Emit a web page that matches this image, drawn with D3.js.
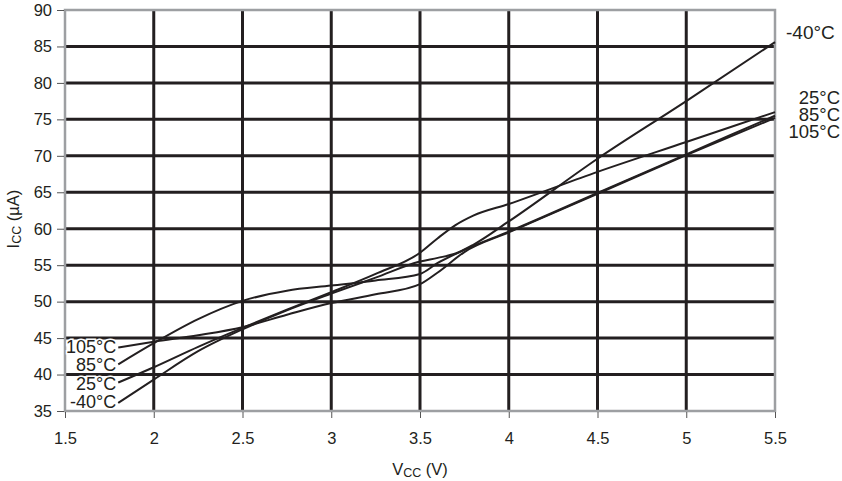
<!DOCTYPE html>
<html>
<head>
<meta charset="utf-8">
<script src="https://cdn.jsdelivr.net/npm/d3@7.9.0/dist/d3.min.js"></script>
<style>
  html, body { margin: 0; padding: 0; background: #fff; }
  svg { display: block; font-family: 'Liberation Sans', Arial, sans-serif; }
</style>
</head>
<body>
<svg id="chart" width="842" height="481"></svg>
<script>
// supply voltage (V) and supply current (µA)
const vcc105 = [1.8, 2.0, 2.25, 2.5, 2.75, 3.0, 3.25, 3.5, 3.6, 3.75, 4.0, 4.5, 5.0, 5.5];
const icc105 = [43.7, 44.5, 45.4, 46.5, 48.2, 49.8, 51.0, 52.4, 54.0, 56.8, 59.5, 64.8, 70.1, 75.2];

const vcc85 = [1.8, 2.0, 2.25, 2.5, 2.75, 3.0, 3.25, 3.5, 3.6, 3.75, 4.0, 4.5, 5.0, 5.5];
const icc85 = [41.4, 44.3, 47.6, 50.1, 51.5, 52.2, 52.9, 53.8, 55.3, 57.1, 59.6, 64.9, 70.2, 75.5];

const vcc25 = [1.8, 2.0, 2.25, 2.5, 2.75, 3.0, 3.25, 3.5, 3.6, 3.7, 3.8, 4.0, 4.5, 5.0, 5.5];
const icc25 = [38.9, 41.0, 43.8, 46.4, 48.9, 51.3, 53.8, 56.7, 58.7, 60.5, 61.8, 63.4, 67.8, 71.9, 76.0];

const vccM40 = [1.8, 2.0, 2.25, 2.5, 2.75, 3.0, 3.25, 3.5, 3.6, 3.7, 3.8, 4.0, 4.5, 5.0, 5.5];
const iccM40 = [36.1, 39.3, 43.2, 46.2, 48.8, 51.1, 53.3, 55.5, 56.0, 56.6, 57.8, 61.0, 69.6, 77.5, 85.6];

const seriesNames = ['105°C', '85°C', '25°C', '-40°C'];
const seriesV = [vcc105, vcc85, vcc25, vccM40];
const seriesI = [icc105, icc85, icc25, iccM40];

const xTicks = [1.5, 2, 2.5, 3, 3.5, 4, 4.5, 5, 5.5];
const yTicks = [35, 40, 45, 50, 55, 60, 65, 70, 75, 80, 85, 90];

// label order at the right edge, top to bottom
const rightLabels = ['25°C', '85°C', '105°C'];

const ink = '#231f20';
const frameGray = '#9d9fa2';

const svg = d3.select('#chart');
const x = d3.scaleLinear().domain([1.5, 5.5]).range([65, 775]);
const y = d3.scaleLinear().domain([35, 90]).range([411, 10]);

// grid
svg.append('g')
  .selectAll('line')
  .data(xTicks.slice(1, -1))
  .join('line')
  .attr('x1', (d) => x(d)).attr('x2', (d) => x(d))
  .attr('y1', y(90)).attr('y2', y(35))
  .attr('stroke', ink).attr('stroke-width', 3);

svg.append('g')
  .selectAll('line')
  .data(yTicks.slice(1, -1))
  .join('line')
  .attr('x1', x(1.5)).attr('x2', x(5.5))
  .attr('y1', (d) => y(d)).attr('y2', (d) => y(d))
  .attr('stroke', ink).attr('stroke-width', 3);

// frame
svg.append('rect')
  .attr('x', x(1.5)).attr('y', y(90))
  .attr('width', x(5.5) - x(1.5)).attr('height', y(35) - y(90))
  .attr('fill', 'none').attr('stroke', frameGray).attr('stroke-width', 2.5);

// axes
const yAxis = svg.append('g')
  .attr('transform', `translate(${x(1.5) - 1},0)`)
  .call(d3.axisLeft(y).tickValues(yTicks).tickSize(7).tickPadding(5));
const xAxis = svg.append('g')
  .attr('transform', `translate(0,${y(35) + 1})`)
  .call(d3.axisBottom(x).tickValues(xTicks).tickSize(6).tickPadding(14)
    .tickFormat(d3.format('')));

[yAxis, xAxis].forEach((g) => {
  g.select('.domain').remove();
  g.selectAll('line').attr('stroke', '#555');
  g.selectAll('text')
    .attr('fill', ink)
    .style('font-size', '16.5px')
    .style('font-family', "'Liberation Sans', Arial, sans-serif");
});

// curves
const line = d3.line()
  .x((d) => x(d[0]))
  .y((d) => y(d[1]))
  .curve(d3.curveMonotoneX);

seriesNames.forEach((name, i) => {
  const pts = seriesV[i].map((v, j) => [v, seriesI[i][j]]);
  svg.append('path')
    .datum(pts)
    .attr('d', line)
    .attr('fill', 'none')
    .attr('stroke', ink)
    .attr('stroke-width', 2);
});

// temperature labels, left side
const leftG = svg.append('g')
  .style('font-size', '18px');
seriesNames.forEach((name, i) => {
  leftG.append('text')
    .attr('x', x(1.8) - 2)
    .attr('y', 353 + i * 18.4)
    .attr('text-anchor', 'end')
    .attr('fill', ink)
    .attr('stroke', '#fff')
    .attr('stroke-width', 3)
    .attr('paint-order', 'stroke')
    .text(name);
});

// temperature labels, right side
svg.append('text')
  .attr('x', 786)
  .attr('y', 39)
  .attr('fill', ink)
  .style('font-size', '19px')
  .text('-40°C');

svg.append('g')
  .selectAll('text')
  .data(rightLabels)
  .join('text')
  .attr('x', 840)
  .attr('y', (d, i) => 104 + i * 17)
  .attr('text-anchor', 'end')
  .attr('fill', ink)
  .style('font-size', '18.5px')
  .text((d) => d);

// axis titles
const xTitle = svg.append('text')
  .attr('x', 420)
  .attr('y', 475)
  .attr('text-anchor', 'middle')
  .attr('fill', ink)
  .style('font-size', '16.5px');
xTitle.append('tspan').text('V');
xTitle.append('tspan').attr('dy', 2).style('font-size', '12.5px').text('CC');
xTitle.append('tspan').attr('dy', -2).text(' (V)');

const yTitle = svg.append('text')
  .attr('transform', 'translate(19,219) rotate(-90)')
  .attr('text-anchor', 'middle')
  .attr('fill', ink)
  .style('font-size', '16.5px');
yTitle.append('tspan').text('I');
yTitle.append('tspan').attr('dy', 2).style('font-size', '12.5px').text('CC');
yTitle.append('tspan').attr('dy', -2).text(' (µA)');
</script>
</body>
</html>
